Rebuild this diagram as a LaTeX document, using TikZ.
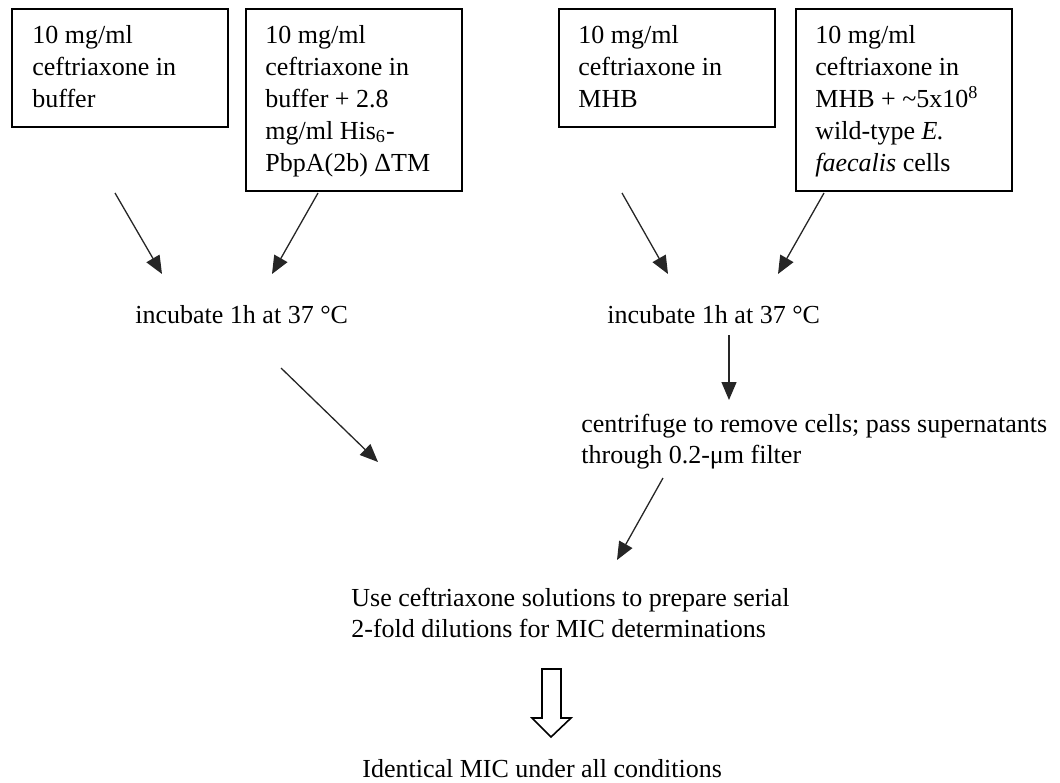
\documentclass[tikz,border=0pt]{standalone}
\usepackage{fontspec}
\setmainfont{Liberation Serif}
\usetikzlibrary{arrows.meta}
\begin{document}
\begin{tikzpicture}[x=0.5pt,y=-0.5pt,
  box/.style={draw, line width=1pt, inner sep=0pt, anchor=north west, minimum width=108pt},
  txt/.style={font=\fontsize{13}{16}\selectfont, inner sep=0pt, anchor=base west, align=left},
  ltxt/.style={txt, font=\fontsize{13}{15.5}\selectfont},
  arr/.style={line width=0.65pt, draw=black!85, -{Triangle[length=9pt,width=7.5pt]}},
  hollow/.style={draw=black, line width=0.8pt, fill=white}]
\useasboundingbox (0,0) rectangle (1060,782);
% boxes
\node[box, minimum height=59pt] (b1) at (11,8) {};
\node[box, minimum height=91pt] (b2) at (245,8) {};
\node[box, minimum height=59pt] (b3) at (558,8) {};
\node[box, minimum height=91pt] (b4) at (795,8) {};
% box texts (base anchor = last line)
\node[txt] (b1t) at (32,107) {10 mg/ml\\ceftriaxone in\\buffer};
\node[txt] (b2t) at (265,171) {10 mg/ml\\ceftriaxone in\\buffer + 2.8\\mg/ml His\textsubscript{6}-\\PbpA(2b) ΔTM};
\node[txt] (b3t) at (578,107) {10 mg/ml\\ceftriaxone in\\MHB};
\node[txt] (b4t) at (815,171) {10 mg/ml\\ceftriaxone in\\MHB + \textasciitilde5x10\textsuperscript{8}\\wild-type \textit{E.}\\\textit{faecalis} cells};
% texts
\node[txt] (inc1) at (135,323) {incubate 1h at 37 °C};
\node[txt] (inc2) at (607,323) {incubate 1h at 37 °C};
\node[ltxt] (cen) at (581,463) {centrifuge to remove cells; pass supernatants\\through 0.2-μm filter};
\node[ltxt] (use) at (351,637) {Use ceftriaxone solutions to prepare serial\\2-fold dilutions for MIC determinations};
\node[txt] (res) at (362,777) {Identical MIC under all conditions};
% arrow end points
\coordinate (a1s) at (115,193); \coordinate (a1e) at (162,274);
\coordinate (a2s) at (318,193); \coordinate (a2e) at (272,274);
\coordinate (a3s) at (622,193); \coordinate (a3e) at (668,274);
\coordinate (a4s) at (824,193); \coordinate (a4e) at (778,274);
\coordinate (a5s) at (729,335); \coordinate (a5e) at (729,400);
\coordinate (a6s) at (281,368); \coordinate (a6e) at (378,462);
\coordinate (a7s) at (663,478); \coordinate (a7e) at (617,560);
\draw[arr] (a1s) -- (a1e);
\draw[arr] (a2s) -- (a2e);
\draw[arr] (a3s) -- (a3e);
\draw[arr] (a4s) -- (a4e);
\draw[arr] (a5s) -- (a5e);
\draw[arr] (a6s) -- (a6e);
\draw[arr] (a7s) -- (a7e);
% hollow arrow
\draw[hollow] (542,669) -- (561,669) -- (561,718) -- (571,718) -- (551,737) -- (532,718) -- (542,718) -- cycle;
\end{tikzpicture}
\end{document}
